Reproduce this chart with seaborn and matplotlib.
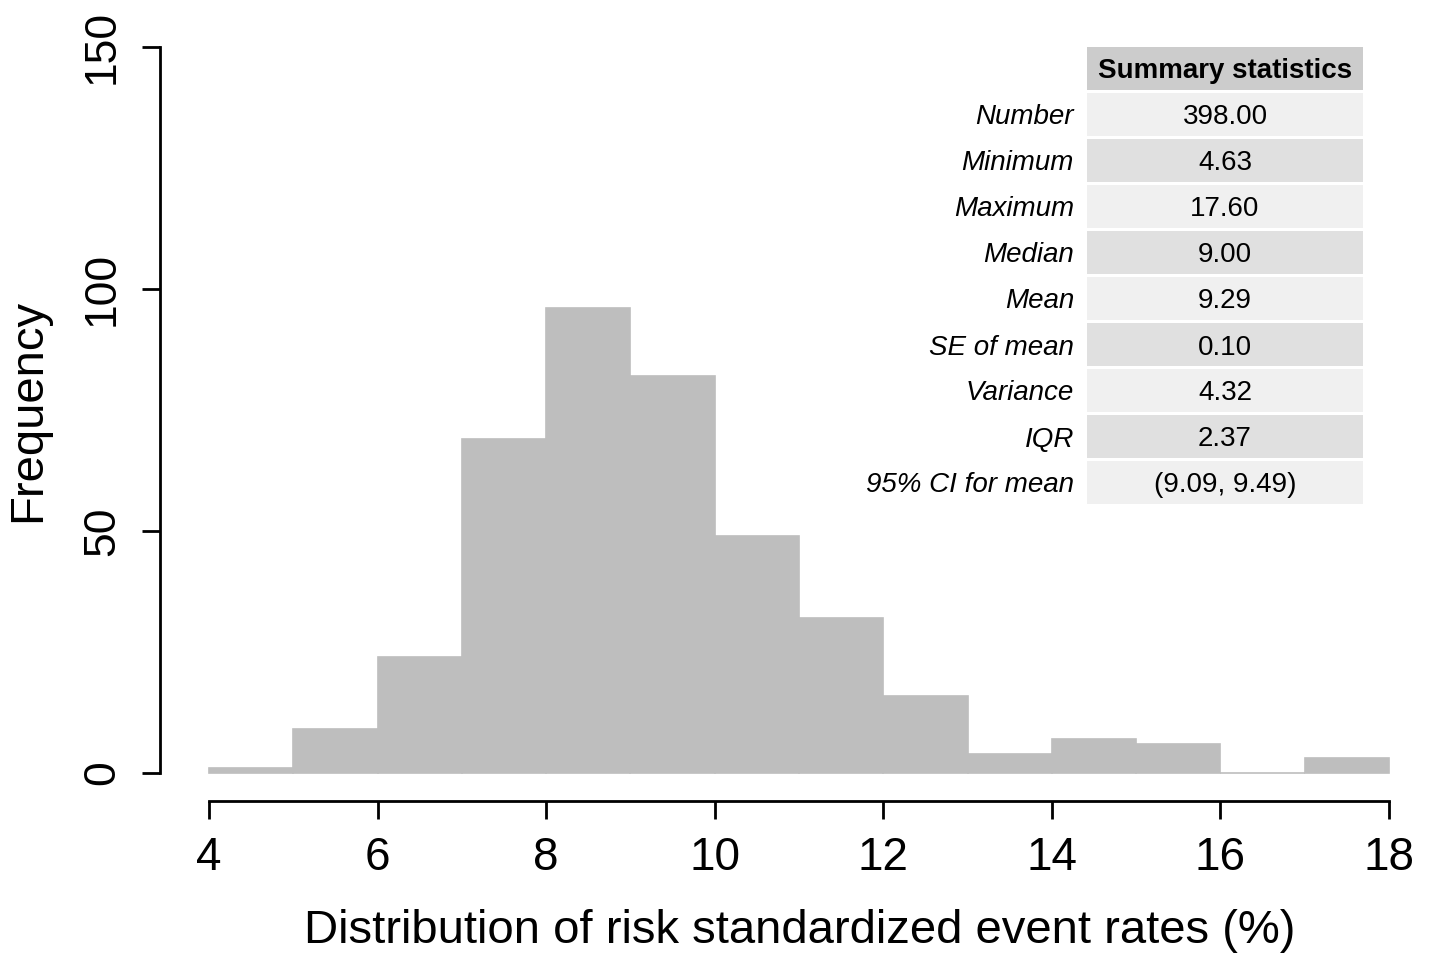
import matplotlib
matplotlib.use("Agg")
import matplotlib.pyplot as plt
from matplotlib.patches import Rectangle
import numpy as np
import seaborn as sns

# Histogram of risk standardized event rates: bin edges (%) and counts
bin_edges = [4, 5, 6, 7, 8, 9, 10, 11, 12, 13, 14, 15, 16, 17, 18]
bin_counts = [1, 9, 24, 69, 96, 82, 49, 32, 16, 4, 7, 6, 0, 3]

x_ticks = [4, 6, 8, 10, 12, 14, 16, 18]
y_ticks = [0, 50, 100, 150]

# Summary statistics table
stat_names = ["Number", "Minimum", "Maximum", "Median", "Mean",
              "SE of mean", "Variance", "IQR", "95% CI for mean"]
stat_values = ["398.00", "4.63", "17.60", "9.00", "9.29",
               "0.10", "4.32", "2.37", "(9.09, 9.49)"]
table_title = "Summary statistics"

sns.set_theme(style="white")
plt.rcParams["font.family"] = ["Liberation Sans", "DejaVu Sans"]

W, H = 1433, 960
fig = plt.figure(figsize=(W / 100, H / 100), dpi=100)
ax = fig.add_axes([209 / W, 1 - 773 / H, (1389 - 209) / W, (773 - 47) / H])

mids = [(a + b) / 2 for a, b in zip(bin_edges[:-1], bin_edges[1:])]
sns.histplot(x=mids, weights=bin_counts, bins=bin_edges, ax=ax,
             color="#BEBEBE", alpha=1.0, edgecolor="#BEBEBE", linewidth=1.2,
             clip_on=False)

ax.set_xlim(4, 18)
ax.set_ylim(0, 150)
ax.set_xticks(x_ticks)
ax.set_yticks(y_ticks)
ax.set_xticklabels([str(t) for t in x_ticks])
ax.set_yticklabels([str(t) for t in y_ticks])

for side in ("top", "right"):
    ax.spines[side].set_visible(False)
ax.spines["left"].set_position(("outward", 35))
ax.spines["bottom"].set_position(("outward", 20))
for side in ("left", "bottom"):
    ax.spines[side].set_linewidth(2.0)
    ax.spines[side].set_color("black")
ax.tick_params(axis="both", which="major", length=13, width=2.0,
               color="black", labelcolor="black", direction="out")
ax.tick_params(axis="x", pad=12, bottom=True, labelsize=33)
ax.tick_params(axis="y", pad=14, left=True, labelsize=32, labelrotation=90)
for lab in ax.get_yticklabels():
    lab.set_va("center")

ax.set_xlabel("Distribution of risk standardized event rates (%)",
              fontsize=34, color="black")
ax.set_ylabel("Frequency", fontsize=34, color="black")
ax.xaxis.label.set_va("center")
ax.yaxis.label.set_va("center")
ax.xaxis.set_label_coords((800 - 209) / 1180, (773 - 931) / 726)
ax.yaxis.set_label_coords((28 - 209) / 1180, (773 - 410) / 726)

# Summary table drawn in figure pixel space
def fx(px):
    return px / W

def fy(py):
    return 1 - py / H

cell_left, cell_right = 1087, 1363
head_top, head_bot = 47, 90
fig.patches.append(Rectangle((fx(cell_left), fy(head_bot)),
                             fx(cell_right) - fx(cell_left),
                             fy(head_top) - fy(head_bot),
                             transform=fig.transFigure, facecolor="#CCCCCC",
                             edgecolor="none", zorder=0))
fig.text(fx((cell_left + cell_right) / 2), fy((head_top + head_bot) / 2 + 3),
         table_title, ha="center", va="center", fontsize=20,
         fontweight="bold", color="black")

row_top0, row_h, row_pitch = 93, 43, 46
for i, (name, val) in enumerate(zip(stat_names, stat_values)):
    top = row_top0 + i * row_pitch
    bot = top + row_h
    face = "#F0F0F0" if i % 2 == 0 else "#E0E0E0"
    fig.patches.append(Rectangle((fx(cell_left), fy(bot)),
                                 fx(cell_right) - fx(cell_left),
                                 fy(top) - fy(bot),
                                 transform=fig.transFigure, facecolor=face,
                                 edgecolor="none", zorder=0))
    cy = fy((top + bot) / 2 + 3)
    fig.text(fx(1074), cy, name, ha="right", va="center", fontsize=20,
             style="italic", color="black")
    fig.text(fx((cell_left + cell_right) / 2), cy, val, ha="center",
             va="center", fontsize=20, color="black")

fig.savefig("out.png", dpi=100, facecolor="white")
